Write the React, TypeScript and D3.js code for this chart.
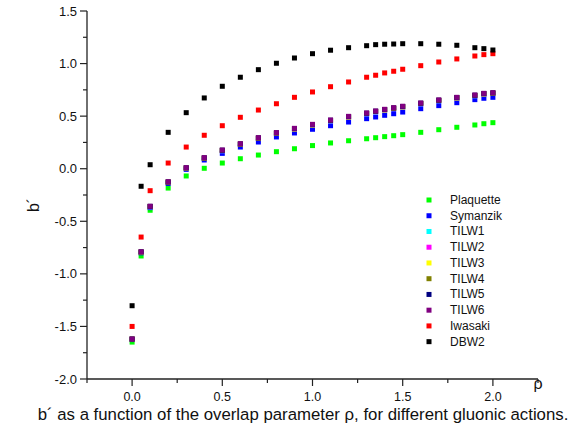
import React from "react";
import * as d3 from "d3";

const rho = [0, 0.05, 0.1, 0.2, 0.3, 0.4, 0.5, 0.6, 0.7, 0.8, 0.9, 1.0, 1.1, 1.2, 1.3, 1.35, 1.4, 1.45, 1.5, 1.6, 1.7, 1.8, 1.9, 1.95, 2.0];

const plaquette = [-1.649, -0.83, -0.395, -0.184, -0.069, 0.004, 0.054, 0.095, 0.130, 0.162, 0.190, 0.220, 0.245, 0.266, 0.285, 0.295, 0.305, 0.314, 0.324, 0.346, 0.371, 0.394, 0.416, 0.428, 0.438];
const symanzik = [-1.625, -0.80, -0.37, -0.14, -0.006, 0.083, 0.146, 0.206, 0.254, 0.302, 0.340, 0.375, 0.409, 0.444, 0.476, 0.492, 0.508, 0.523, 0.539, 0.571, 0.600, 0.628, 0.657, 0.670, 0.679];
const tilw1 = [-1.622, -0.795, -0.362, -0.13, 0.004, 0.098, 0.171, 0.231, 0.288, 0.336, 0.377, 0.415, 0.456, 0.491, 0.523, 0.542, 0.558, 0.573, 0.587, 0.618, 0.647, 0.672, 0.694, 0.710, 0.716];
const tilw2 = [-1.621, -0.794, -0.361, -0.129, 0.005, 0.099, 0.172, 0.232, 0.289, 0.337, 0.378, 0.416, 0.457, 0.492, 0.524, 0.543, 0.559, 0.574, 0.588, 0.619, 0.648, 0.673, 0.695, 0.711, 0.717];
const tilw3 = [-1.621, -0.793, -0.360, -0.128, 0.006, 0.100, 0.173, 0.233, 0.290, 0.338, 0.379, 0.417, 0.458, 0.493, 0.525, 0.544, 0.560, 0.575, 0.589, 0.620, 0.649, 0.674, 0.696, 0.712, 0.718];
const tilw4 = [-1.620, -0.792, -0.359, -0.127, 0.007, 0.101, 0.174, 0.234, 0.291, 0.339, 0.380, 0.418, 0.459, 0.494, 0.526, 0.545, 0.561, 0.576, 0.590, 0.621, 0.650, 0.675, 0.697, 0.713, 0.719];
const tilw5 = [-1.620, -0.791, -0.358, -0.126, 0.008, 0.103, 0.176, 0.236, 0.293, 0.341, 0.382, 0.420, 0.461, 0.496, 0.528, 0.547, 0.563, 0.578, 0.592, 0.623, 0.652, 0.677, 0.699, 0.715, 0.721];
const tilw6 = [-1.620, -0.790, -0.357, -0.124, 0.010, 0.105, 0.178, 0.238, 0.295, 0.343, 0.384, 0.422, 0.463, 0.498, 0.530, 0.549, 0.565, 0.580, 0.594, 0.625, 0.654, 0.679, 0.701, 0.717, 0.723];
const iwasaki = [-1.50, -0.65, -0.209, 0.054, 0.206, 0.318, 0.409, 0.489, 0.558, 0.618, 0.679, 0.730, 0.780, 0.825, 0.870, 0.889, 0.911, 0.927, 0.946, 0.980, 1.015, 1.044, 1.072, 1.085, 1.094];
const dbw2 = [-1.303, -0.167, 0.038, 0.346, 0.533, 0.673, 0.784, 0.870, 0.942, 1.003, 1.053, 1.094, 1.127, 1.151, 1.170, 1.180, 1.184, 1.186, 1.189, 1.189, 1.184, 1.174, 1.151, 1.142, 1.129];

const seriesNames = ["Plaquette", "Symanzik", "TILW1", "TILW2", "TILW3", "TILW4", "TILW5", "TILW6", "Iwasaki", "DBW2"];
const seriesValues = [plaquette, symanzik, tilw1, tilw2, tilw3, tilw4, tilw5, tilw6, iwasaki, dbw2];
const seriesColors = ["#00ff00", "#0000ff", "#00ffff", "#ff00ff", "#ffff00", "#808000", "#000080", "#800080", "#ff0000", "#000000"];

const xMajorTicks = [0, 0.5, 1.0, 1.5, 2.0];
const xMinorTicks = [-0.25, 0.25, 0.75, 1.25, 1.75, 2.25];
const yMajorTicks = [-2.0, -1.5, -1.0, -0.5, 0.0, 0.5, 1.0, 1.5];
const yMinorTicks = [-1.75, -1.25, -0.75, -0.25, 0.25, 0.75, 1.25];

const caption = "b\u00b4 as a function of the overlap parameter \u03c1, for different gluonic actions.";
const yLabel = "b\u00b4";
const xLabel = "\u03c1";

export default function App() {
  const W = 574, H = 428;
  const x = d3.scaleLinear().domain([-0.25, 2.25]).range([87, 538]);
  const y = d3.scaleLinear().domain([-2, 1.5]).range([379, 11]);
  const font = "'Liberation Sans', Arial, sans-serif";
  const axisColor = "#222";
  const ms = 5;
  const legX = 429, legY0 = 200, legDy = 15.74;

  return (
    <div style={{ position: "absolute", left: 0, top: 0, width: W, height: H, background: "#fff" }}>
      <svg width={W} height={H} style={{ display: "block" }} fontFamily={font}>
        <rect width={W} height={H} fill="#fff" />
        {/* axes */}
        <line x1={x(-0.25)} x2={x(-0.25)} y1={y(1.5)} y2={y(-2)} stroke={axisColor} strokeWidth={1.3} />
        <line x1={x(-0.25)} x2={x(2.25)} y1={y(-2)} y2={y(-2)} stroke={axisColor} strokeWidth={1.3} />
        {yMajorTicks.map((t) => (
          <g key={"ym" + t}>
            <line x1={x(-0.25) - 7} x2={x(-0.25)} y1={y(t)} y2={y(t)} stroke={axisColor} strokeWidth={1.2} />
            <text x={77} y={y(t) + 4.5} fontSize={13} textAnchor="end" fill="#111">{t.toFixed(1)}</text>
          </g>
        ))}
        {yMinorTicks.map((t) => (
          <line key={"yn" + t} x1={x(-0.25) - 4} x2={x(-0.25)} y1={y(t)} y2={y(t)} stroke={axisColor} strokeWidth={1.2} />
        ))}
        {xMajorTicks.map((t) => (
          <g key={"xm" + t}>
            <line x1={x(t)} x2={x(t)} y1={y(-2)} y2={y(-2) + 7} stroke={axisColor} strokeWidth={1.2} />
            <text x={x(t)} y={401} fontSize={12.5} textAnchor="middle" fill="#111">{t.toFixed(1)}</text>
          </g>
        ))}
        {xMinorTicks.map((t) => (
          <line key={"xn" + t} x1={x(t)} x2={x(t)} y1={y(-2)} y2={y(-2) + 4} stroke={axisColor} strokeWidth={1.2} />
        ))}
        <text x={538} y={389} fontSize={16} textAnchor="middle" fill="#111">{xLabel}</text>
        <text transform={`translate(39,205) rotate(-90)`} fontSize={16} textAnchor="middle" fill="#111">{yLabel}</text>
        <text x={303} y={420} fontSize={16.8} textAnchor="middle" fill="#111">{caption}</text>
        {/* data */}
        {seriesValues.map((vals, si) => (
          <g key={"s" + si} fill={seriesColors[si]}>
            {vals.map((v, i) => (
              <rect key={i} x={x(rho[i]) - ms / 2} y={y(v) - ms / 2} width={ms} height={ms} />
            ))}
          </g>
        ))}
        {/* legend */}
        {seriesNames.map((n, i) => (
          <g key={"l" + n}>
            <rect x={legX - ms / 2} y={legY0 + i * legDy - ms / 2} width={ms} height={ms} fill={seriesColors[i]} />
            <text x={450} y={legY0 + i * legDy + 4} fontSize={12} fill="#111">{n}</text>
          </g>
        ))}
      </svg>
    </div>
  );
}
